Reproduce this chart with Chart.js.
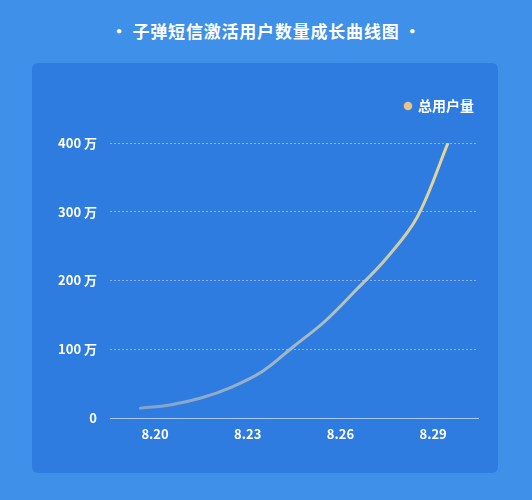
<!DOCTYPE html>
<html>
<head>
<meta charset="utf-8">
<script src="https://cdn.jsdelivr.net/npm/chart.js@4/dist/chart.umd.min.js"></script>
<style>
  html, body { margin: 0; padding: 0; }
  body {
    width: 532px; height: 500px;
    background: #3e90e8;
    font-family: "Noto Sans CJK SC", "Noto Sans", sans-serif;
    position: relative;
    overflow: hidden;
  }
  #title {
    position: absolute; left: 0; top: 18px; width: 532px;
    text-align: center; color: #fff;
    font-size: 17px; font-weight: bold; letter-spacing: 0.8px;
  }
  #panel {
    position: absolute; left: 32px; top: 63px;
    width: 466px; height: 410px;
    background: #2e7ce0; border-radius: 6px;
  }
</style>
</head>
<body>
<div id="title">·&thinsp;子弹短信激活用户数量成长曲线图&thinsp;·</div>
<div id="panel"><canvas id="chart" width="466" height="410"></canvas></div>
<script>
// 数据
const days = [20, 21, 22, 23, 24, 25, 26, 27, 28, 29, 30];
const users = [14, 19, 29, 45, 68, 104, 140, 185, 232, 292, 400];
const xTickDays = [20, 23, 26, 29];
const yTicks = [0, 100, 200, 300, 400];
const seriesName = "总用户量";

const font = { family: "'Noto Sans CJK SC', 'Noto Sans', sans-serif", size: 12, weight: "bold" };

function lineGradient(context) {
  const area = context.chart.chartArea;
  if (!area) return "#e8d890";
  const g = context.chart.ctx.createLinearGradient(area.left, 0, area.right, 0);
  g.addColorStop(0, "rgba(150,170,200,0.75)");
  g.addColorStop(0.5, "rgba(175,190,195,0.9)");
  g.addColorStop(1, "#f2df8f");
  return g;
}

// 图例下方留出空白
const legendGap = {
  id: "legendGap",
  beforeInit(chart) {
    const fit = chart.legend.fit;
    chart.legend.fit = function () {
      fit.call(this);
      this.height += 20;
    };
  }
};

new Chart(document.getElementById("chart"), {
  type: "line",
  data: {
    datasets: [{
      label: seriesName,
      data: days.map((d, i) => ({ x: d, y: users[i] })),
      borderColor: lineGradient,
      backgroundColor: "#e9c486",
      borderWidth: 3,
      pointRadius: 0,
      tension: 0.35,
      fill: false
    }]
  },
  options: {
    responsive: false,
    animation: false,
    devicePixelRatio: 1,
    layout: { padding: { top: 32, right: 20, left: 0, bottom: 0 } },
    plugins: {
      legend: {
        position: "top",
        align: "end",
        labels: {
          color: "#fff",
          font: { ...font, size: 14 },
          usePointStyle: true,
          pointStyle: "circle",
          boxWidth: 6,
          boxHeight: 6,
          padding: 4,
          generateLabels: chart => Chart.defaults.plugins.legend.labels.generateLabels(chart).map(l => {
            l.fillStyle = "#e9c486";
            l.strokeStyle = "#e9c486";
            l.lineWidth = 0;
            return l;
          })
        }
      },
      tooltip: { enabled: false }
    },
    scales: {
      x: {
        type: "linear",
        min: 19.06,
        max: 30.97,
        afterBuildTicks: scale => { scale.ticks = xTickDays.map(v => ({ value: v })); },
        afterFit: scale => { scale.height = 55; },
        ticks: {
          color: "#fff",
          font: { ...font, size: 13 },
          padding: 8,
          labelOffset: 16,
          maxRotation: 0,
          callback: v => "8." + v
        },
        grid: { display: false, drawTicks: false },
        border: { display: true, color: "rgba(255,255,255,0.6)", width: 1 }
      },
      y: {
        min: 0,
        max: 400,
        afterBuildTicks: scale => { scale.ticks = yTicks.map(v => ({ value: v })); },
        afterFit: scale => { scale.width = 78; },
        ticks: {
          color: "#fff",
          font: { ...font, size: 13 },
          padding: 13,
          callback: v => v === 0 ? "0" : v + " 万"
        },
        grid: {
          drawTicks: false,
          color: ctx => ctx.tick.value === 0 ? "rgba(0,0,0,0)" : "rgba(255,255,255,0.45)",
          lineWidth: 1
        },
        border: { display: false, dash: [2, 2] }
      }
    }
  },
  plugins: [legendGap]
});
</script>
</body>
</html>
